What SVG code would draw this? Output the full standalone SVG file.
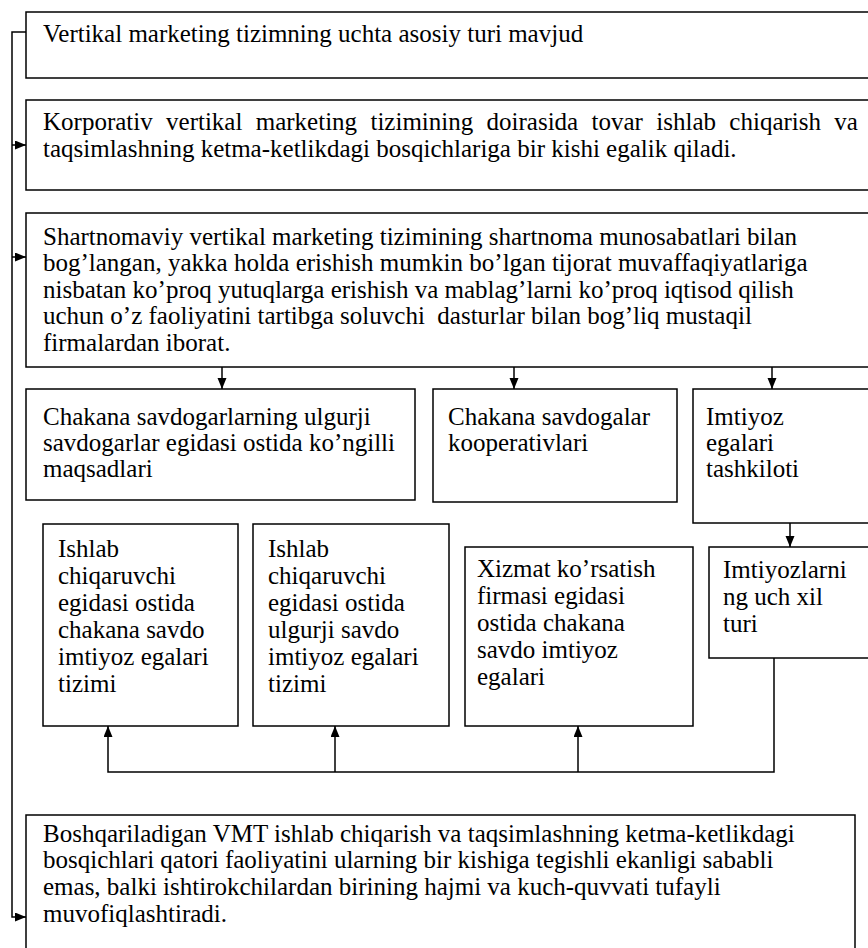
<svg xmlns="http://www.w3.org/2000/svg" width="868" height="948" viewBox="0 0 868 948">
  <style>
    .box { fill: #ffffff; stroke: #000000; stroke-width: 1.5; }
    .txt { font-family: "Liberation Serif", "Times New Roman", serif; font-size: 25px; fill: #000000; }
    .wire { fill: none; stroke: #000000; stroke-width: 1.5; }
  </style>
  <defs>
    <marker id="arrow" markerUnits="userSpaceOnUse" markerWidth="12" markerHeight="10" refX="11" refY="4.5" orient="auto">
      <path d="M0,0 L11,4.5 L0,9 z" fill="#000000"/>
    </marker>
  </defs>

  <rect width="868" height="948" fill="#ffffff"/>

  <!-- connectors -->
  <g id="connectors">
    <path class="wire" d="M26,32 H12 V917 H26" marker-end="url(#arrow)"/>
    <path class="wire" d="M12,145 H26" marker-end="url(#arrow)"/>
    <path class="wire" d="M12,257 H26" marker-end="url(#arrow)"/>
    <path class="wire" d="M222,367 V389" marker-end="url(#arrow)"/>
    <path class="wire" d="M514,367 V389" marker-end="url(#arrow)"/>
    <path class="wire" d="M772,367 V389" marker-end="url(#arrow)"/>
    <path class="wire" d="M790,523 V547" marker-end="url(#arrow)"/>
    <path class="wire" d="M774,658 V772 H108 V726" marker-end="url(#arrow)"/>
    <path class="wire" d="M335,772 V726" marker-end="url(#arrow)"/>
    <path class="wire" d="M578,772 V726" marker-end="url(#arrow)"/>
  </g>

  <!-- top heading -->
  <g id="vmt-types">
    <rect class="box" x="26" y="12" width="850" height="66"/>
    <text class="txt" x="43" y="42">Vertikal marketing tizimning uchta asosiy turi mavjud</text>
  </g>

  <!-- corporate VMS -->
  <g id="corporate">
    <rect class="box" x="26" y="100" width="850" height="90"/>
    <text class="txt" x="43" y="130" word-spacing="7.1">Korporativ vertikal marketing tizimining doirasida tovar ishlab chiqarish va</text>
    <text class="txt" x="43" y="157">taqsimlashning ketma-ketlikdagi bosqichlariga bir kishi egalik qiladi.</text>
  </g>

  <!-- contractual VMS -->
  <g id="contractual">
    <rect class="box" x="26" y="213" width="850" height="154"/>
    <text class="txt" x="43" y="245">Shartnomaviy vertikal marketing tizimining shartnoma munosabatlari bilan</text>
    <text class="txt" x="43" y="271">bog’langan, yakka holda erishish mumkin bo’lgan tijorat muvaffaqiyatlariga</text>
    <text class="txt" x="43" y="298">nisbatan ko’proq yutuqlarga erishish va mablag’larni ko’proq iqtisod qilish</text>
    <text class="txt" x="43" y="324" xml:space="preserve">uchun o’z faoliyatini tartibga soluvchi  dasturlar bilan bog’liq mustaqil</text>
    <text class="txt" x="43" y="351">firmalardan iborat.</text>
  </g>

  <!-- middle row -->
  <g id="wholesaler-chains">
    <rect class="box" x="26" y="389" width="389" height="111"/>
    <text class="txt" x="43" y="425">Chakana savdogarlarning ulgurji</text>
    <text class="txt" x="43" y="451">savdogarlar egidasi ostida ko’ngilli</text>
    <text class="txt" x="43" y="477">maqsadlari</text>
  </g>

  <g id="retail-coops">
    <rect class="box" x="433" y="389" width="244" height="113"/>
    <text class="txt" x="448" y="425">Chakana savdogalar</text>
    <text class="txt" x="448" y="451">kooperativlari</text>
  </g>

  <g id="franchise-org">
    <rect class="box" x="693" y="389" width="180" height="134"/>
    <text class="txt" x="706" y="425">Imtiyoz</text>
    <text class="txt" x="706" y="451">egalari</text>
    <text class="txt" x="706" y="477">tashkiloti</text>
  </g>

  <!-- lower row -->
  <g id="maker-retail">
    <rect class="box" x="43" y="524" width="195" height="202"/>
    <text class="txt" x="58" y="557">Ishlab</text>
    <text class="txt" x="58" y="584">chiqaruvchi</text>
    <text class="txt" x="58" y="611">egidasi ostida</text>
    <text class="txt" x="58" y="638">chakana savdo</text>
    <text class="txt" x="58" y="665">imtiyoz egalari</text>
    <text class="txt" x="58" y="692">tizimi</text>
  </g>

  <g id="maker-wholesale">
    <rect class="box" x="253" y="524" width="196" height="202"/>
    <text class="txt" x="268" y="557">Ishlab</text>
    <text class="txt" x="268" y="584">chiqaruvchi</text>
    <text class="txt" x="268" y="611">egidasi ostida</text>
    <text class="txt" x="268" y="638">ulgurji savdo</text>
    <text class="txt" x="268" y="665">imtiyoz egalari</text>
    <text class="txt" x="268" y="692">tizimi</text>
  </g>

  <g id="service-retail">
    <rect class="box" x="465" y="547" width="228" height="179"/>
    <text class="txt" x="477" y="577">Xizmat ko’rsatish</text>
    <text class="txt" x="477" y="604">firmasi egidasi</text>
    <text class="txt" x="477" y="631">ostida chakana</text>
    <text class="txt" x="477" y="658">savdo imtiyoz</text>
    <text class="txt" x="477" y="685">egalari</text>
  </g>

  <g id="franchise-kinds">
    <rect class="box" x="709" y="547" width="165" height="111"/>
    <text class="txt" x="723" y="578">Imtiyozlarni</text>
    <text class="txt" x="723" y="605">ng uch xil</text>
    <text class="txt" x="723" y="632">turi</text>
  </g>

  <!-- administered VMS -->
  <g id="administered">
    <rect class="box" x="26" y="815" width="829" height="140"/>
    <text class="txt" x="43" y="842">Boshqariladigan VMT ishlab chiqarish va taqsimlashning ketma-ketlikdagi</text>
    <text class="txt" x="43" y="868">bosqichlari qatori faoliyatini ularning bir kishiga tegishli ekanligi sababli</text>
    <text class="txt" x="43" y="895">emas, balki ishtirokchilardan birining hajmi va kuch-quvvati tufayli</text>
    <text class="txt" x="43" y="922">muvofiqlashtiradi.</text>
  </g>
</svg>
